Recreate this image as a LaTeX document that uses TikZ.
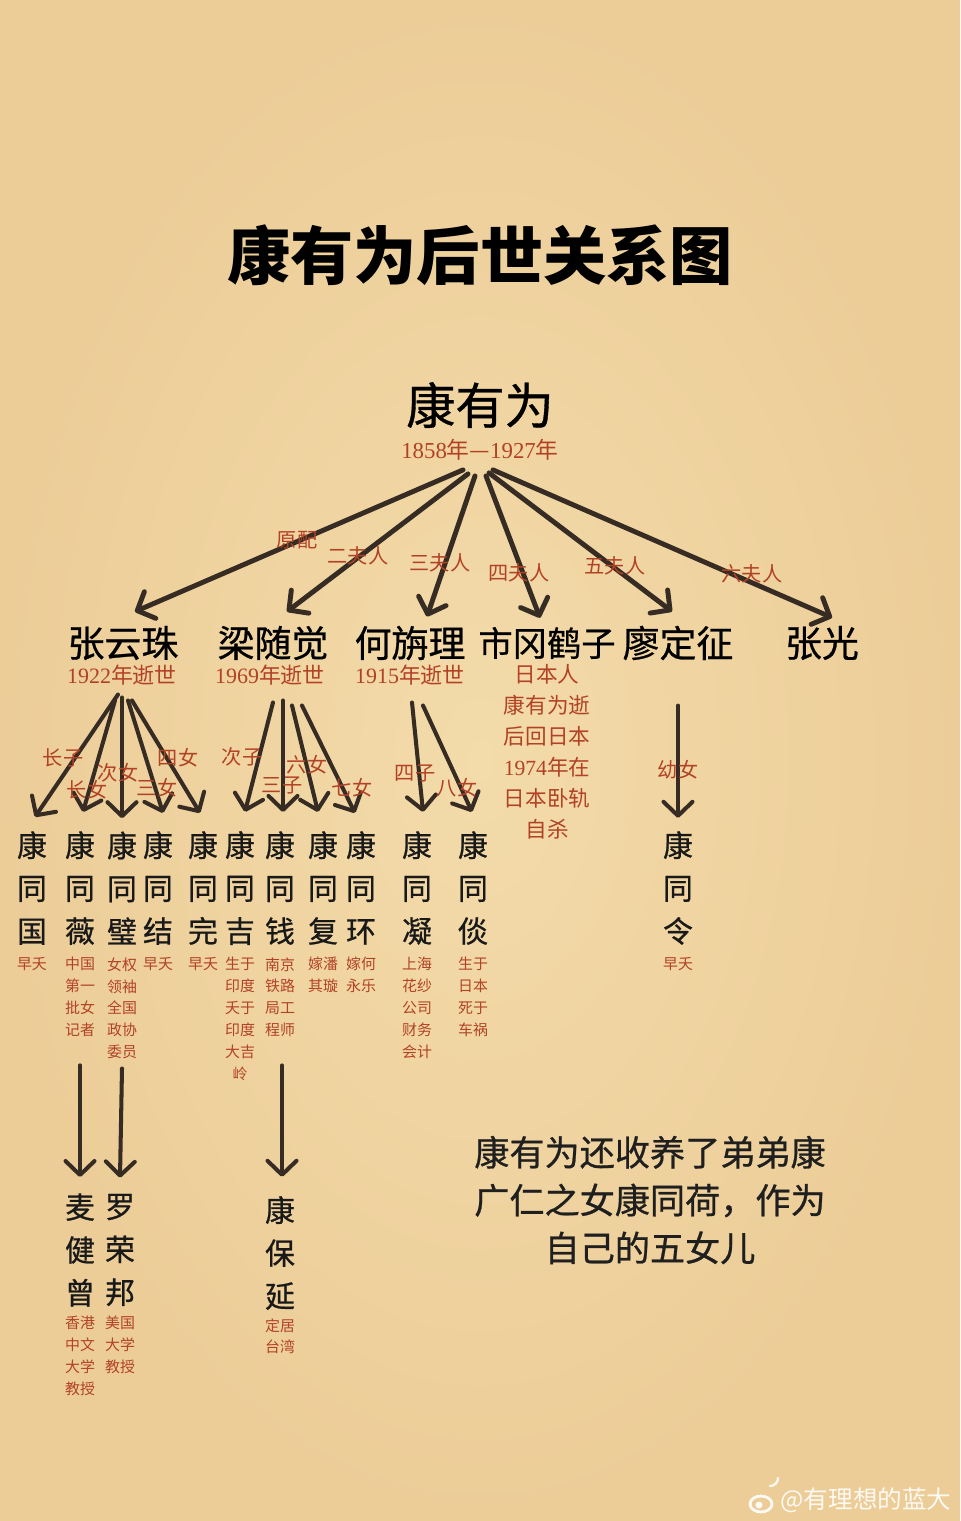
\documentclass[tikz,border=0pt]{standalone}
\usepackage{fontspec}
\setmainfont{Noto Sans CJK SC}
\newfontfamily\midfont[FakeBold=0.7]{Noto Sans CJK SC}
\newfontfamily\serifnum{Liberation Serif}
\usetikzlibrary{arrows.meta, calc}

\definecolor{paperhi}{RGB}{243,219,170}
\definecolor{paperlo}{RGB}{236,205,152}
\definecolor{ink}{RGB}{55,44,36}
\definecolor{rust}{RGB}{178,66,38}

\newcommand{\yr}[1]{{\serifnum #1}}

\begin{document}
\begin{tikzpicture}[x=0.02cm, y=-0.02cm,
  >={Straight Barb[length=2.8mm, width=5.8mm, round]},
  wifearrow/.style={->, draw=ink, line width=2.8pt, line cap=round},
  kidarrow/.style={->, draw=ink, line width=2.3pt, line cap=round},
  wife/.style={inner sep=0pt, font=\midfont\fontsize{21}{25}\selectfont},
  died/.style={inner sep=0pt, text=rust, font=\fontsize{12.5}{15}\selectfont},
  tag/.style={inner sep=0pt, text=rust, font=\fontsize{11.5}{14}\selectfont},
  kidname/.style={inner sep=0pt, align=center, text=black!90, font=\midfont\fontsize{17}{24.4}\selectfont},
  kidnote/.style={inner sep=0pt, align=center, anchor=north, text=rust, font=\fontsize{8.5}{12.5}\selectfont}]

% ---- Paper --------------------------------------------------------------
\shade[inner color=paperhi, outer color=paperlo] (0,0) rectangle (960,1521);
\useasboundingbox (0,0) rectangle (960,1521);

% ---- Title --------------------------------------------------------------
\node[font=\fontsize{36}{40}\selectfont\bfseries] (title) at (480,255) {康有为后世关系图};

% ---- Kang Youwei --------------------------------------------------------
\node[inner sep=0pt, font=\midfont\fontsize{28}{32}\selectfont] (kyw) at (480,405) {康有为};
\node[died, font=\fontsize{13}{15}\selectfont] (kywyr) at (480,450) {\yr{1858}年—\yr{1927}年};

% ---- Wives --------------------------------------------------------------
\node[wife] (zyz) at (123,643) {张云珠};
\node[wife] (lsj) at (273,643) {梁随觉};
\node[wife] (hxl) at (410,643) {何旃理};
\node[wife, font=\midfont\fontsize{19.5}{25}\selectfont] (sgh) at (547,643) {市冈鹤子};
\node[wife] (ldz) at (678,643) {廖定征};
\node[wife] (zg)  at (822,643) {张光};

\node[died] (zyzyr) at (122,675) {\yr{1922}年逝世};
\node[died] (lsjyr) at (270,675) {\yr{1969}年逝世};
\node[died] (hxlyr) at (410,675) {\yr{1915}年逝世};
\node[died, align=center, anchor=north, font=\fontsize{12.3}{17.6}\selectfont] (sghnote) at (547,664)
      {日本人\\康有为逝\\后回日本\\\yr{1974}年在\\日本卧轨\\自杀};

\draw[wifearrow] ($(kywyr.south)+(-17,9)$)  -- ($(zyz.north)+(12,-14)$);
\draw[wifearrow] ($(kywyr.south)+(-12,13)$) -- ($(lsj.north)+(14,-14)$);
\draw[wifearrow] ($(kywyr.south)+(-5,15)$)  -- ($(hxl.north)+(17,-9)$);
\draw[wifearrow] ($(kywyr.south)+(6,15)$)   -- ($(sgh.north)+(-7,-9)$);
\draw[wifearrow] ($(kywyr.south)+(9,12)$)   -- ($(ldz.north)+(-6,-14)$);
\draw[wifearrow] ($(kywyr.south)+(13,9)$)   -- ($(zg.north)+(10,-8)$);

\node[tag] (yp)  at (297,540) {原配};
\node[tag] (fr2) at (358,556) {二夫人};
\node[tag] (fr3) at (440,563) {三夫人};
\node[tag] (fr4) at (519,573) {四夫人};
\node[tag] (fr5) at (615,566) {五夫人};
\node[tag] (fr6) at (752,574) {六夫人};

% ---- Children -----------------------------------------------------------
\foreach \n/\x/\c in {c1/32/国, c2/80/薇, c3/122/璧, c4/158/结, c5/203/完, c6/240/吉,
                      c7/280/钱, c8/323/复, c9/361/环, c10/417/凝, c11/473/倓, c12/678/令}
  \node[kidname] (\n) at (\x,888) {康\\同\\\c};

\foreach \n/\x/\t in {n1/32/早夭, n2/80/{中国\\第一\\批女\\记者}, n3/122/{女权\\领袖\\全国\\政协\\委员},
                      n4/158/早夭, n5/203/早夭, n6/240/{生于\\印度\\夭于\\印度\\大吉\\岭},
                      n7/280/{南京\\铁路\\局工\\程师}, n8/323/{嫁潘\\其璇}, n9/361/{嫁何\\永乐},
                      n10/417/{上海\\花纱\\公司\\财务\\会计}, n11/473/{生于\\日本\\死于\\车祸}, n12/678/早夭}
  \node[kidnote] (\n) at (\x,957) {\t};

\draw[kidarrow] ($(zyzyr.south)+(-4,9)$)  -- ($(c1.north)+(3,-14)$);
\draw[kidarrow] ($(zyzyr.south)+(-7,15)$) -- ($(c2.north)+(3,-19)$);
\draw[kidarrow] ($(zyzyr.south)+(0,12)$)  -- ($(c3.north)+(0,-13)$);
\draw[kidarrow] ($(zyzyr.south)+(6,15)$)  -- ($(c4.north)+(5,-18)$);
\draw[kidarrow] ($(zyzyr.south)+(10,15)$) -- ($(c5.north)+(-3,-18)$);

\draw[kidarrow] ($(lsjyr.south)+(3,17)$)  -- ($(c6.north)+(5,-19)$);
\draw[kidarrow] ($(lsjyr.south)+(13,15)$) -- ($(c7.north)+(3,-19)$);
\draw[kidarrow] ($(lsjyr.south)+(22,20)$) -- ($(c8.north)+(-5,-19)$);
\draw[kidarrow] ($(lsjyr.south)+(32,20)$) -- ($(c9.north)+(-6,-18)$);

\draw[kidarrow] ($(hxlyr.south)+(2,17)$)  -- ($(c10.north)+(6,-19)$);
\draw[kidarrow] ($(hxlyr.south)+(13,20)$) -- ($(c11.north)+(-1,-19)$);

\draw[kidarrow] ($(ldz.south)+(0,45)$) -- ($(c12.north)+(0,-13)$);

\node[tag] (zz1) at (63,758)  {长子};
\node[tag] (zn1) at (87,790)  {长女};
\node[tag] (zn2) at (118,773) {次女};
\node[tag] (zn3) at (157,788) {三女};
\node[tag] (zn4) at (178,758) {四女};
\node[tag] (zz2) at (242,757) {次子};
\node[tag] (zz3) at (282,785) {三子};
\node[tag] (zn6) at (307,765) {六女};
\node[tag] (zn7) at (352,788) {七女};
\node[tag] (zz4) at (415,773) {四子};
\node[tag] (zn8) at (457,788) {八女};
\node[tag] (yn)  at (678,770) {幼女};

% ---- Grandchildren ------------------------------------------------------
\node[kidname] (g1) at (80,1250)  {麦\\健\\曾};
\node[kidname] (g2) at (120,1250) {罗\\荣\\邦};
\node[kidname] (g3) at (280,1253) {康\\保\\延};
\node[kidnote] (gn1) at (80,1316)  {香港\\中文\\大学\\教授};
\node[kidnote] (gn2) at (120,1316) {美国\\大学\\教授};
\node[kidnote] (gn3) at (280,1318) {定居\\台湾};

\draw[kidarrow] ($(n2.south)+(0,28)$) -- ($(g1.north)+(0,-16)$);
\draw[kidarrow] ($(n3.south)+(0,9)$)  -- ($(g2.north)+(0,-16)$);
\draw[kidarrow] ($(n7.south)+(2,28)$) -- ($(g3.north)+(2,-19)$);

% ---- Adopted daughter ---------------------------------------------------
\node[align=center, text=black!88, font=\midfont\fontsize{20}{27.2}\selectfont] (adopt) at (650,1200)
      {康有为还收养了弟弟康\\广仁之女康同荷，作为\\自己的五女儿};

% ---- Watermark ----------------------------------------------------------
\draw[white!88!paperlo, line width=1.6pt] (761,1504) ellipse (11 and 8);
\fill[white!88!paperlo] (759,1505) circle (3.5);
\draw[white!88!paperlo, line width=1.3pt, line cap=round] (770,1486) arc (90:0:8);
\node[font=\fontsize{14}{16}\selectfont, text=white!88!paperlo] (mark) at (866,1500) {@有理想的蓝大};

\end{tikzpicture}
\end{document}
